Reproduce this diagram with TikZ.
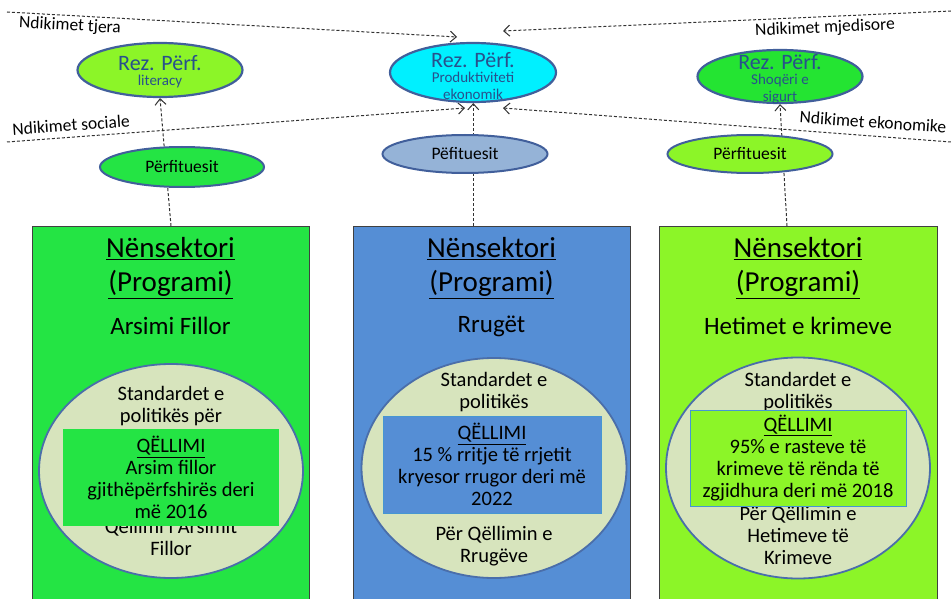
\documentclass[tikz,border=0pt]{standalone}
\usepackage{fontspec}
\setmainfont{Carlito}
\usetikzlibrary{arrows,arrows.meta,shapes,calc}
\usetikzlibrary{shapes.geometric}
\definecolor{grA}{RGB}{36,228,68}
\definecolor{grC}{RGB}{140,245,40}
\definecolor{bluB}{RGB}{85,142,213}
\definecolor{ellfill}{RGB}{215,228,189}
\definecolor{ellline}{RGB}{74,110,170}
\definecolor{rezline}{RGB}{65,95,155}
\definecolor{reztext}{RGB}{40,80,140}
\definecolor{cyanB}{RGB}{0,240,255}
\definecolor{rezgr}{RGB}{36,228,50}
\definecolor{perfB}{RGB}{149,179,215}
\definecolor{goalline}{RGB}{70,150,210}
\definecolor{dashcol}{RGB}{50,50,50}
\tikzstyle{box} = [rectangle, draw=black!75, line width=0.9pt, minimum width=277, minimum height=376, anchor=north, inner sep=0]
\tikzstyle{title} = [align=center, font=\fontsize{29}{34}\selectfont]
\tikzstyle{sub} = [font=\fontsize{25}{28}\selectfont]
\tikzstyle{goalell} = [ellipse, draw=ellline, line width=1.8pt, fill=ellfill, inner sep=0]
\tikzstyle{elltxt} = [align=center, font=\fontsize{20.5}{22}\selectfont]
\tikzstyle{goal} = [rectangle, inner sep=0, align=center, line width=1pt, font=\fontsize{20.5}{22}\selectfont]
\tikzstyle{rez} = [ellipse, draw=rezline, line width=2.2pt, inner sep=0]
\tikzstyle{reztitle} = [text=reztext, font=\fontsize{22}{24}\selectfont]
\tikzstyle{rezsub} = [text=reztext, align=center, font=\fontsize{15}{17}\selectfont]
\tikzstyle{perf} = [ellipse, draw=rezline, line width=2pt, inner sep=0, font=\fontsize{17.5}{19}\selectfont]
\tikzstyle{impact} = [font=\fontsize{17.5}{19}\selectfont]
\tikzstyle{darrow} = [draw=dashcol, line width=1pt, dash pattern=on 3pt off 2pt, -{Straight Barb[length=6pt,width=11pt]}]
\begin{document}
\begin{tikzpicture}[x=1pt,y=-1pt]
\useasboundingbox (0,0) rectangle (951,599);
\node[box, fill=grA] (boxA) at (170.5,226) {};
\node[box, fill=bluB] (boxB) at (491.5,226) {};
\node[box, fill=grC, minimum width=278] (boxC) at (798,226) {};
\node[title] (titA) at (170.5,268) {\underline{Nënsektori}\\\underline{(Programi)}};
\node[title] (titB) at (491.5,268) {\underline{Nënsektori}\\\underline{(Programi)}};
\node[title] (titC) at (798,268) {\underline{Nënsektori}\\\underline{(Programi)}};
\node[sub] (subA) at (170.5,326) {Arsimi Fillor};
\node[sub] (subB) at (491.5,326) {Rrugët};
\node[sub] (subC) at (798,326) {Hetimet e krimeve};
\node[goalell, minimum width=264, minimum height=214] (ellA) at (171,471) {};
\node[goalell, minimum width=265, minimum height=220] (ellB) at (494,468) {};
\node[goalell, minimum width=264, minimum height=221] (ellC) at (798,468) {};
\node[elltxt] (ellAt) at (171,406) {Standardet e\\politikës për};
\node[elltxt] (ellAb) at (171,537.5) {Qëllimi i Arsimit\\Fillor};
\node[elltxt] (ellBt) at (494,392.5) {Standardet e\\politikës};
\node[elltxt] (ellBb) at (494,546) {Për Qëllimin e\\Rrugëve};
\node[elltxt] (ellCt) at (798,392.5) {Standardet e\\politikës};
\node[elltxt] (ellCb) at (798,535) {Për Qëllimin e\\Hetimeve të\\Krimeve};
\node[goal, fill=grA, minimum width=216, minimum height=97] (goalA) at (171,477.5) {\underline{QËLLIMI}\\Arsim fillor\\gjithëpërfshirës deri\\më 2016};
\node[goal, draw=goalline, fill=bluB, minimum width=218, minimum height=97] (goalB) at (492,464.5) {\underline{QËLLIMI}\\15 \% rritje të rrjetit\\kryesor rrugor deri më\\2022};
\node[goal, draw=goalline, fill=grC, minimum width=216, minimum height=96] (goalC) at (798,458) {\underline{QËLLIMI}\\95\% e rasteve të\\krimeve të rënda të\\zgjidhura deri më 2018};
\node[rez, fill=grC, minimum width=165, minimum height=54] (rezA) at (160,70) {};
\node[rez, fill=cyanB, minimum width=166, minimum height=59] (rezB) at (473,72.5) {};
\node[rez, fill=rezgr, minimum width=165, minimum height=53] (rezC) at (780,76.5) {};
\node[reztitle] (rezAt) at (160,63) {Rez. Përf.};
\node[rezsub] (rezAs) at (160,82) {literacy};
\node[reztitle] (rezBt) at (473,60) {Rez. Përf.};
\node[rezsub] (rezBs) at (473,86) {Produktiviteti\\ekonomik};
\node[reztitle] (rezCt) at (780,62) {Rez. Përf.};
\node[rezsub] (rezCs) at (780,89) {Shoqëri e\\sigurt};
\draw[darrow] ($(boxA.north)+(0.5,0)$) -- (rezA.south);
\draw[darrow] ($(rezB.south |- boxB.north)+(0.3,0)$) -- ($(rezB.south)+(0.3,0)$);
\draw[darrow] ($(boxC.north)+(-11,0)$) -- (rezC.south);
\node[perf, fill=grA, minimum width=164, minimum height=40] (perfA) at (182,167) {Përfituesit};
\node[perf, fill=perfB, minimum width=165, minimum height=38] (perfB) at (465,154) {Pëfituesit};
\node[perf, fill=grC, minimum width=165, minimum height=38] (perfC) at (750,154) {Përfituesit};
\coordinate (tjeraS) at (7,12);
\coordinate (tjeraE) at (457,37);
\coordinate (mjedS) at (951,11);
\coordinate (mjedE) at (503,31);
\coordinate (socS) at (7,142);
\coordinate (socE) at (465,108);
\coordinate (ekoS) at (951,142);
\coordinate (ekoE) at (503,108);
\draw[darrow] (tjeraS) -- (tjeraE);
\draw[darrow] (mjedS) -- (mjedE);
\draw[darrow] (socS) -- (socE);
\draw[darrow] (ekoS) -- (ekoE);
\node[impact, rotate=-3] (tjera) at (70,26) {Ndikimet tjera};
\node[impact, rotate=2.5] (mjed) at (825,28) {Ndikimet mjedisore};
\node[impact, rotate=4] (soc) at (71,125) {Ndikimet sociale};
\node[impact, rotate=-4] (eko) at (873,122) {Ndikimet ekonomike};
\end{tikzpicture}
\end{document}
